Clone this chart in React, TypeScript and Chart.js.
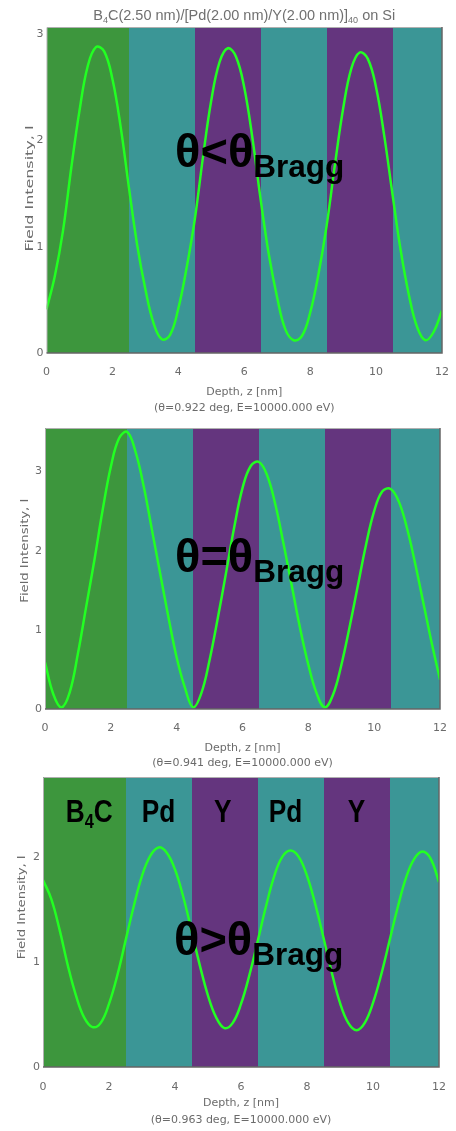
import React, { useEffect, useRef } from "react";
import { Chart, registerables } from "chart.js";

Chart.register(...registerables);

// ---------- data ----------
const depth = [
  0, 0.25, 0.5, 0.75, 1, 1.25, 1.5, 1.75, 2, 2.25, 2.5, 2.75, 3, 3.25, 3.5, 3.75,
  4, 4.25, 4.5, 4.75, 5, 5.25, 5.5, 5.75, 6, 6.25, 6.5, 6.75, 7, 7.25, 7.5, 7.75,
  8, 8.25, 8.5, 8.75, 9, 9.25, 9.5, 9.75, 10, 10.25, 10.5, 10.75, 11, 11.25, 11.5, 11.75, 12,
];

const intensityBelow = [
  0.41, 0.72, 1.15, 1.74, 2.28, 2.7, 2.88, 2.84, 2.58, 2.13, 1.56, 1.02, 0.6, 0.28, 0.13, 0.17,
  0.42, 0.8, 1.26, 1.85, 2.38, 2.74, 2.87, 2.79, 2.5, 2.02, 1.44, 0.92, 0.52, 0.22, 0.12, 0.16,
  0.38, 0.74, 1.2, 1.77, 2.3, 2.68, 2.83, 2.77, 2.5, 2.04, 1.49, 0.96, 0.54, 0.24, 0.12, 0.2, 0.4,
];

const intensityAt = [
  0.59, 0.19, 0.02, 0.21, 0.7, 1.29, 1.88, 2.51, 3.06, 3.42, 3.5, 3.25, 2.81, 2.26, 1.71, 1.16,
  0.65, 0.27, 0.02, 0.2, 0.62, 1.15, 1.72, 2.3, 2.79, 3.07, 3.12, 2.95, 2.58, 2.08, 1.55, 1.02,
  0.56, 0.2, 0.02, 0.18, 0.55, 1.03, 1.55, 2.07, 2.5, 2.75, 2.78, 2.62, 2.28, 1.83, 1.33, 0.83, 0.37,
];

const intensityAbove = [
  1.78, 1.6, 1.31, 0.97, 0.68, 0.47, 0.38, 0.42, 0.6, 0.87, 1.2, 1.53, 1.82, 2.01, 2.09, 2.04,
  1.88, 1.62, 1.3, 0.97, 0.68, 0.47, 0.37, 0.42, 0.6, 0.87, 1.19, 1.52, 1.81, 2.0, 2.06, 2.0,
  1.82, 1.55, 1.23, 0.9, 0.61, 0.42, 0.35, 0.42, 0.61, 0.88, 1.2, 1.52, 1.8, 1.98, 2.05, 1.98, 1.76,
];

const layerMaterial = ["B4C", "Pd", "Y", "Pd", "Y", "Pd"];
const layerStart = [0, 2.5, 4.5, 6.5, 8.5, 10.5];
const layerEnd = [2.5, 4.5, 6.5, 8.5, 10.5, 12];

const xTicks = [0, 2, 4, 6, 8, 10, 12];
const yTicksBelow = [0, 1, 2, 3];
const yTicksAt = [0, 1, 2, 3];
const yTicksAbove = [0, 1, 2];

const angleDeg = ["0.922", "0.941", "0.963"];
const energyEv = "10000.000";
const relations = ["<", "=", ">"];

// ---------- styles / placement ----------
const materialColor: Record<string, string> = {
  B4C: "#3d963d",
  Pd: "#3b9696",
  Y: "#64357e",
};
const curveColor = "#22ff22";
const textGray = "#6b6b6b";
const FONT = "'Liberation Sans', Arial, sans-serif";
const AXIS_FONT = "'DejaVu Sans', sans-serif";
// layer-name anchors (depth, nm) for the third panel: [layer index, centre]
const layerNameAnchors: [number, number][] = [
  [0, 1.4],
  [1, 3.5],
  [2, 5.45],
  [3, 7.35],
  [4, 9.5],
];

type Run = { text: string; size: number; dy: number; bold?: boolean };

function drawRuns(
  ctx: CanvasRenderingContext2D,
  runs: Run[],
  x: number,
  y: number,
  align: "left" | "center",
  color: string,
  scaleX = 1,
  family = FONT
) {
  ctx.save();
  ctx.textBaseline = "alphabetic";
  ctx.textAlign = "left";
  ctx.fillStyle = color;
  const widths = runs.map((r) => {
    ctx.font = `${r.bold ? "bold " : ""}${r.size}px ${family}`;
    return ctx.measureText(r.text).width;
  });
  const total = widths.reduce((a, b) => a + b, 0) * scaleX;
  const sx = align === "center" ? x - total / 2 : x;
  ctx.translate(sx, y);
  ctx.scale(scaleX, 1);
  let cx = 0;
  runs.forEach((r, i) => {
    ctx.font = `${r.bold ? "bold " : ""}${r.size}px ${family}`;
    ctx.fillText(r.text, cx, r.dy);
    cx += widths[i];
  });
  ctx.restore();
}

type PanelCfg = {
  values: number[];
  yTicks: number[];
  yMax: number;
  angle: string;
  relation: string;
  top: number;
  height: number;
  padTop: number;
  padRight: number;
  yWidth: number;
  xHeight: number;
  xTickLen: number;
  titleLineHeight: number;
  titlePadBottom: number;
  yTitleX: number;
  yTitleV: number;
  yTitleLen: number;
  labelPos: { z: number; v: number };
  showHeader: boolean;
  showLayerNames: boolean;
  layerNameV: number;
};

const panels: PanelCfg[] = [
  {
    values: intensityBelow,
    yTicks: yTicksBelow,
    yMax: 3.07,
    angle: angleDeg[0],
    relation: relations[0],
    top: 0,
    height: 416,
    padTop: 27,
    padRight: 14,
    yWidth: 46.5,
    xHeight: 63,
    xTickLen: 12.4,
    titleLineHeight: 16,
    titlePadBottom: 0,
    yTitleX: 30,
    yTitleV: 1.55,
    yTitleLen: 126,
    labelPos: { z: 3.9, v: 1.75 },
    showHeader: true,
    showLayerNames: false,
    layerNameV: 0,
  },
  {
    values: intensityAt,
    yTicks: yTicksAt,
    yMax: 3.55,
    angle: angleDeg[1],
    relation: relations[1],
    top: 416,
    height: 356,
    padTop: 12,
    padRight: 16,
    yWidth: 45,
    xHeight: 63,
    xTickLen: 12.4,
    titleLineHeight: 15,
    titlePadBottom: 1.5,
    yTitleX: 25,
    yTitleV: 2.0,
    yTitleLen: 104,
    labelPos: { z: 3.95, v: 1.73 },
    showHeader: false,
    showLayerNames: false,
    layerNameV: 0,
  },
  {
    values: intensityAbove,
    yTicks: yTicksAbove,
    yMax: 2.76,
    angle: angleDeg[2],
    relation: relations[2],
    top: 772,
    height: 359,
    padTop: 5,
    padRight: 17,
    yWidth: 43,
    xHeight: 64,
    xTickLen: 13.4,
    titleLineHeight: 17,
    titlePadBottom: 2.5,
    yTitleX: 22,
    yTitleV: 1.52,
    yTitleLen: 104,
    labelPos: { z: 3.97, v: 1.07 },
    showHeader: false,
    showLayerNames: true,
    layerNameV: 2.33,
  },
];

function Panel({ cfg }: { cfg: PanelCfg }) {
  const ref = useRef<HTMLCanvasElement>(null);

  useEffect(() => {
    const canvas = ref.current!;
    const points = depth.map((z, i) => ({ x: z, y: cfg.values[i] }));

    const layersPlugin = {
      id: "layers",
      beforeDatasetsDraw(chart: any) {
        const { ctx, chartArea } = chart;
        const xs = chart.scales.x;
        const t = Math.floor(chartArea.top);
        const b = Math.ceil(chartArea.bottom);
        ctx.save();
        layerMaterial.forEach((m, i) => {
          const x0 = Math.round(xs.getPixelForValue(layerStart[i]));
          const x1 = Math.round(xs.getPixelForValue(layerEnd[i]));
          ctx.fillStyle = materialColor[m];
          ctx.fillRect(x0, t, x1 - x0, b - t);
        });
        ctx.restore();
      },
    };

    const overlayPlugin = {
      id: "overlay",
      afterDatasetsDraw(chart: any) {
        const { ctx, chartArea } = chart;
        const xs = chart.scales.x;
        const ys = chart.scales.y;
        const { left, right, top, bottom } = chartArea;
        // frame
        ctx.save();
        ctx.strokeStyle = "#b0b0b0";
        ctx.lineWidth = 1;
        ctx.beginPath();
        ctx.moveTo(left + 0.5, bottom);
        ctx.lineTo(left + 0.5, top + 0.5);
        ctx.lineTo(right, top + 0.5);
        ctx.stroke();
        ctx.strokeStyle = "#666666";
        ctx.lineWidth = 1.5;
        ctx.beginPath();
        ctx.moveTo(right, top);
        ctx.lineTo(right, bottom);
        ctx.lineTo(left, bottom);
        ctx.stroke();
        ctx.restore();

        // layer names
        if (cfg.showLayerNames) {
          const by = ys.getPixelForValue(cfg.layerNameV);
          layerNameAnchors.forEach(([i, zc]) => {
            const m = layerMaterial[i];
            const cx = xs.getPixelForValue(zc);
            const runs: Run[] =
              m === "B4C"
                ? [
                    { text: "B", size: 32, dy: 0, bold: true },
                    { text: "4", size: 20, dy: 6, bold: true },
                    { text: "C", size: 32, dy: 0, bold: true },
                  ]
                : [{ text: m, size: 32, dy: 0, bold: true }];
            drawRuns(ctx, runs, cx, by, "center", "#000", 0.82);
          });
        }

        // theta relation label
        const lx = xs.getPixelForValue(cfg.labelPos.z);
        const ly = ys.getPixelForValue(cfg.labelPos.v);
        drawRuns(
          ctx,
          [
            { text: "\u03b8" + cfg.relation + "\u03b8", size: 47, dy: 0, bold: true },
            { text: "Bragg", size: 31.5, dy: 10, bold: true },
          ],
          lx,
          ly,
          "left",
          "#000"
        );
      },
      afterDraw(chart: any) {
        const { ctx, chartArea } = chart;
        const ys = chart.scales.y;
        // y-axis title (rotated)
        ctx.save();
        ctx.font = `11px ${AXIS_FONT}`;
        const w = ctx.measureText("Field Intensity, I").width;
        ctx.translate(cfg.yTitleX, ys.getPixelForValue(cfg.yTitleV));
        ctx.rotate(-Math.PI / 2);
        ctx.scale(cfg.yTitleLen / w, 1);
        ctx.fillStyle = textGray;
        ctx.textAlign = "center";
        ctx.textBaseline = "middle";
        ctx.fillText("Field Intensity, I", 0, 0);
        ctx.restore();

        if (!cfg.showHeader) return;
        const cx = (chartArea.left + chartArea.right) / 2;
        drawRuns(
          ctx,
          [
            { text: "B", size: 14.5, dy: 0 },
            { text: "4", size: 9, dy: 3 },
            { text: "C(2.50 nm)/[Pd(2.00 nm)/Y(2.00 nm)]", size: 14.5, dy: 0 },
            { text: "40", size: 9, dy: 3 },
            { text: " on Si", size: 14.5, dy: 0 },
          ],
          cx,
          20,
          "center",
          "#707070"
        );
      },
    };

    const chart = new Chart(canvas, {
      type: "line",
      data: {
        datasets: [
          {
            data: points,
            borderColor: curveColor,
            borderWidth: 2.5,
            pointRadius: 0,
            tension: 0.4,
            fill: false,
          },
        ],
      },
      options: {
        animation: false,
        responsive: false,
        maintainAspectRatio: false,
        devicePixelRatio: 1,
        layout: { padding: { top: cfg.padTop, right: cfg.padRight, left: 0, bottom: 0 } },
        plugins: { legend: { display: false }, tooltip: { enabled: false }, title: { display: false } },
        scales: {
          x: {
            type: "linear",
            min: 0,
            max: 12,
            grid: { display: false, drawTicks: true, tickLength: cfg.xTickLen },
            border: { display: false },
            afterBuildTicks: (s: any) => {
              s.ticks = xTicks.map((v) => ({ value: v }));
            },
            afterFit: (s: any) => {
              s.height = cfg.xHeight;
            },
            ticks: {
              color: textGray,
              padding: 0,
              maxRotation: 0,
              autoSkip: false,
              font: { family: AXIS_FONT, size: 11 },
              callback: (v: any) => String(v),
            },
            title: {
              display: true,
              text: ["Depth, z [nm]", `(\u03b8=${cfg.angle} deg, E=${energyEv} eV)`],
              color: textGray,
              font: { family: AXIS_FONT, size: 11, lineHeight: `${cfg.titleLineHeight}px` },
              padding: { top: 0, bottom: cfg.titlePadBottom },
            },
          },
          y: {
            type: "linear",
            min: 0,
            max: cfg.yMax,
            grid: { display: false, drawTicks: true, tickLength: 3 },
            border: { display: false },
            afterBuildTicks: (s: any) => {
              s.ticks = cfg.yTicks.map((v) => ({ value: v }));
            },
            afterFit: (s: any) => {
              s.width = cfg.yWidth;
            },
            ticks: {
              color: textGray,
              padding: 0,
              autoSkip: false,
              font: { family: AXIS_FONT, size: 11, lineHeight: "10px" },
              callback: (v: any) => String(v),
            },
            title: { display: false },
          },
        },
      },
      plugins: [layersPlugin, overlayPlugin],
    } as any);

    return () => chart.destroy();
  }, [cfg]);

  return (
    <canvas
      ref={ref}
      width={456}
      height={cfg.height}
      style={{ position: "absolute", left: 0, top: cfg.top, width: 456, height: cfg.height }}
    />
  );
}

export default function App() {
  return (
    <div
      style={{
        position: "absolute",
        left: 0,
        top: 0,
        width: 456,
        height: 1131,
        background: "#ffffff",
        overflow: "hidden",
      }}
    >
      {panels.map((p, i) => (
        <Panel key={i} cfg={p} />
      ))}
    </div>
  );
}
